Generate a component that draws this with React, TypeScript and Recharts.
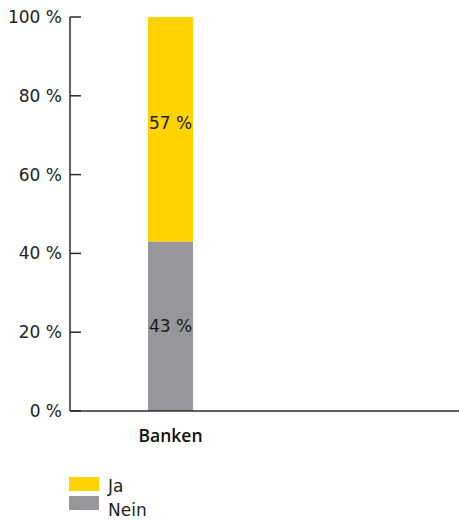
import { BarChart, Bar, XAxis, YAxis, Legend, LabelList } from 'recharts'

const categories = ['Banken']
const jaValues = [57]
const neinValues = [43]
const yTicks = [0, 20, 40, 60, 80, 100]

const series = [
  { key: 'ja', name: 'Ja', color: '#FFD200', values: jaValues },
  { key: 'nein', name: 'Nein', color: '#97979B', values: neinValues },
]

const data = categories.map((name, i) => ({ name, ja: jaValues[i], nein: neinValues[i] }))

const font = '"DejaVu Sans", sans-serif'
const axisColor = '#2b2b2b'

function YTick(props: any) {
  const { x, y, payload } = props
  return (
    <g>
      <line x1={x + 8} x2={x + 19} y1={y} y2={y} stroke={axisColor} strokeWidth={1.5} />
      <text x={x} y={y} dy={6} textAnchor="end" fontSize={17} fill="#222" fontFamily={font}>
        {`${payload.value} %`}
      </text>
    </g>
  )
}

// squares sit 19px apart, the texts 24px apart, as in the original
function LegendBox() {
  return (
    <div style={{ position: 'relative', height: 37, width: 120, fontFamily: font, fontSize: 17, color: '#222' }}>
      {series.map((s, i) => (
        <div key={s.key}>
          <span style={{ position: 'absolute', left: 0, top: 1 + i * 19, width: 30, height: 14, background: s.color }} />
          <span style={{ position: 'absolute', left: 39, top: -2 + i * 24, lineHeight: '24px' }}>{s.name}</span>
        </div>
      ))}
    </div>
  )
}

export default function App() {
  return (
    <div style={{ position: 'absolute', left: 0, top: 0, background: '#fff' }}>
      <BarChart width={459} height={523} data={data} margin={{ top: 17, right: 0, left: 0, bottom: 10 }}>
        <XAxis
          dataKey="name"
          padding={{ left: 0, right: 188 }}
          tickLine={false}
          tickSize={0}
          tickMargin={19}
          height={65}
          stroke={axisColor}
          strokeWidth={1.5}
          tick={{ fill: '#111', fontSize: 17.5, fontWeight: 600, fontFamily: '"Open Sans", sans-serif' }}
        />
        <YAxis
          domain={[0, 100]}
          ticks={yTicks}
          width={70}
          tickLine={false}
          tickSize={0}
          tickMargin={8}
          stroke={axisColor}
          strokeWidth={1.5}
          tick={<YTick />}
          interval={0}
        />
        <Legend
          verticalAlign="bottom"
          align="left"
          layout="horizontal"
          content={<LegendBox />}
          wrapperStyle={{ left: 69, bottom: 10, width: 'auto' }}
        />
        <Bar dataKey="nein" name="Nein" stackId="a" fill="#97979B" barSize={45} isAnimationActive={false}>
          <LabelList dataKey="nein" position="center" formatter={(v: any) => `${v} %`} fill="#1a1a1a" fontSize={17} fontFamily={font} />
        </Bar>
        <Bar dataKey="ja" name="Ja" stackId="a" fill="#FFD200" barSize={45} isAnimationActive={false}>
          <LabelList dataKey="ja" position="center" formatter={(v: any) => `${v} %`} fill="#1a1a1a" fontSize={17} fontFamily={font} dy={-6} />
        </Bar>
      </BarChart>
    </div>
  )
}
